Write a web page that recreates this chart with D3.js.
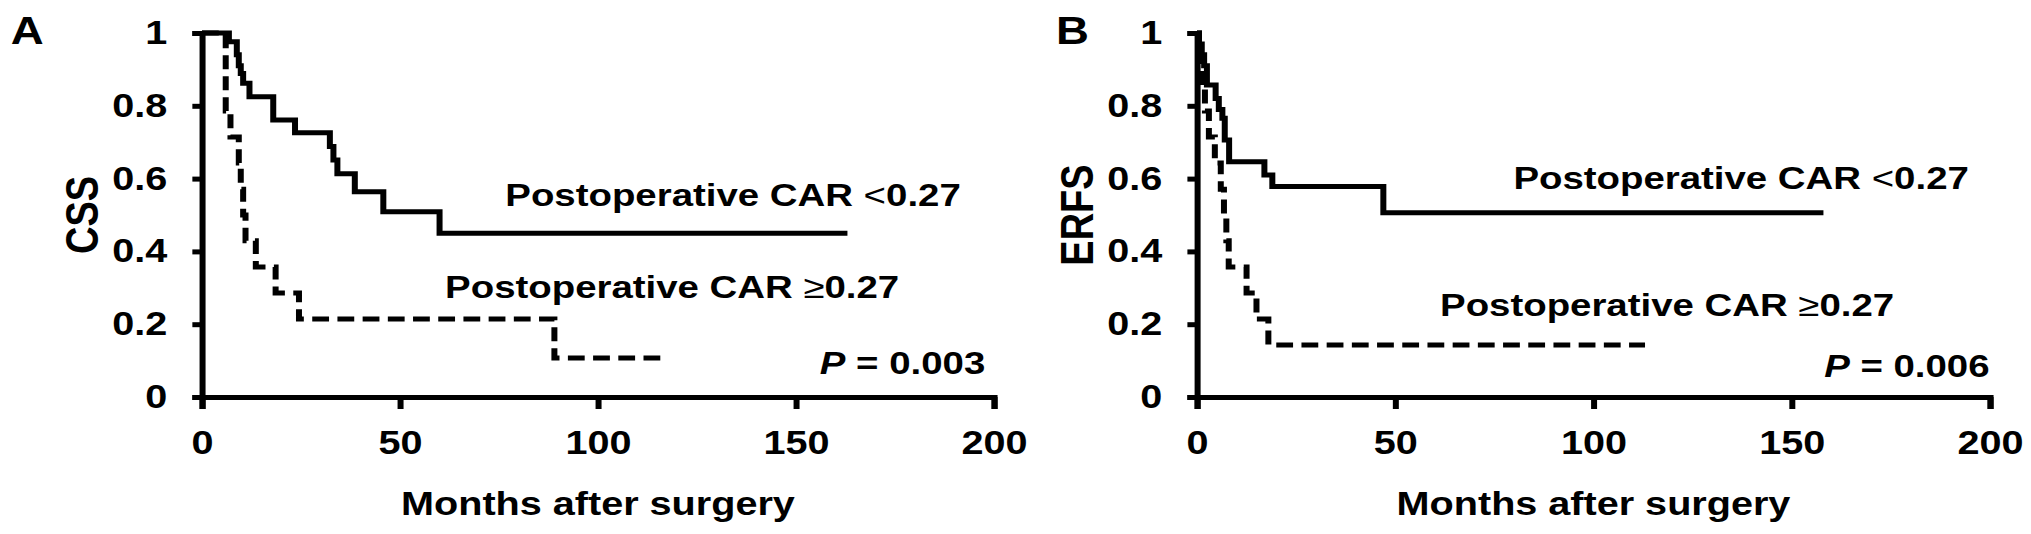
<!DOCTYPE html>
<html>
<head>
<meta charset="utf-8">
<script src="https://cdn.jsdelivr.net/npm/d3@7"></script>
<style>
  html, body { margin: 0; padding: 0; background: #fff; }
  svg { display: block; }
</style>
</head>
<body>
<svg id="chart" width="2031" height="534"></svg>
<script>
// axis ticks
const monthTicks = [0, 50, 100, 150, 200];
const survTicks = [0, 0.2, 0.4, 0.6, 0.8, 1];

// Panel A - CSS (month of each step, survival after it; last point = end of follow-up)
const cssLowMonths = [0, 6.8, 8.8, 9.3, 9.8, 10.4, 12, 18, 23.5, 32.3, 33.2, 34.2, 38.6, 45.8, 60, 163];
const cssLowSurv   = [1, 0.976, 0.94, 0.91, 0.889, 0.862, 0.825, 0.761, 0.726, 0.688, 0.651, 0.613, 0.564, 0.509, 0.45, 0.45];
const cssHighMonths = [0, 6, 7.2, 9.3, 9.8, 10.4, 11, 13.6, 18.6, 24.5, 89, 116];
const cssHighSurv   = [1, 0.786, 0.714, 0.643, 0.571, 0.5, 0.429, 0.357, 0.286, 0.214, 0.107, 0.107];

// Panel B - ERFS
const erfsLowMonths = [0, 0.5, 1.2, 1.8, 2.5, 4.7, 5.5, 6.4, 7, 8.1, 17, 19, 47, 158];
const erfsLowSurv   = [1, 0.97, 0.94, 0.91, 0.857, 0.82, 0.79, 0.766, 0.706, 0.646, 0.61, 0.578, 0.506, 0.506];
const erfsHighMonths = [0, 0.5, 1.2, 2, 3, 4.5, 6, 6.8, 7.4, 8, 12.5, 15, 18, 113];
const erfsHighSurv   = [1, 0.929, 0.857, 0.786, 0.714, 0.643, 0.571, 0.5, 0.429, 0.357, 0.286, 0.214, 0.143, 0.143];

const groupLabel = "Postoperative CAR ";
const font = "'Liberation Sans', Arial, sans-serif";

// the figure is stretched a little horizontally, like the original
const stretch = 1.2;
const W = 2031 / stretch, H = 534;

const svg = d3.select("#chart")
  .attr("viewBox", `0 0 ${W} ${H}`)
  .attr("preserveAspectRatio", "none");

const panels = [
  { letter: "A", yTitle: "CSS", left: 168.3, right: 828.3, letterX: 9, titleX: 82,
    low: [cssLowMonths, cssLowSurv], high: [cssHighMonths, cssHighSurv],
    lowPos: [76.6, 0.525], highPos: [61.4, 0.272], pPos: [197.8, 0.063], p: "0.003" },
  { letter: "B", yTitle: "ERFS", left: 997.5, right: 1658.3, letterX: 880, titleX: 911,
    low: [erfsLowMonths, erfsLowSurv], high: [erfsHighMonths, erfsHighSurv],
    lowPos: [79.8, 0.571], highPos: [61.3, 0.223], pPos: [199.9, 0.055], p: "0.006" }
];

const y = d3.scaleLinear().domain([0, 1]).range([397, 33]);

panels.forEach(p => {
  const x = d3.scaleLinear().domain([0, 200]).range([p.left, p.right]);
  const g = svg.append("g");

  // y axis
  const yAxis = g.append("g")
    .attr("transform", `translate(${p.left},0)`)
    .call(d3.axisLeft(y).tickValues(survTicks).tickFormat(d => d)
      .tickSize(8).tickPadding(21));

  // x axis
  const xAxis = g.append("g")
    .attr("transform", `translate(0,${y(0)})`)
    .call(d3.axisBottom(x).tickValues(monthTicks).tickFormat(d => d)
      .tickSize(12).tickPadding(22));

  [yAxis, xAxis].forEach(a => {
    a.select(".domain").attr("stroke", "#000").attr("stroke-width", 5);
    a.selectAll(".tick line").attr("stroke", "#000").attr("stroke-width", 5);
    a.selectAll(".tick text")
      .attr("fill", "#000")
      .attr("font-family", font)
      .attr("font-weight", "bold")
      .attr("font-size", 33);
  });

  // survival curves
  const line = d3.line()
    .x(d => x(d[0]))
    .y(d => y(d[1]))
    .curve(d3.curveStepAfter);

  g.append("path")
    .datum(d3.zip(p.low[0], p.low[1]))
    .attr("d", line)
    .attr("fill", "none")
    .attr("stroke", "#000")
    .attr("stroke-width", 5);

  g.append("path")
    .datum(d3.zip(p.high[0], p.high[1]))
    .attr("d", line)
    .attr("fill", "none")
    .attr("stroke", "#000")
    .attr("stroke-width", 5)
    .attr("stroke-dasharray", "14,7");

  // axis titles
  g.append("text")
    .attr("x", (p.left + p.right) / 2)
    .attr("y", 515)
    .attr("text-anchor", "middle")
    .attr("font-family", font)
    .attr("font-weight", "bold")
    .attr("font-size", 33)
    .text("Months after surgery");

  g.append("text")
    .attr("transform", `translate(${p.titleX},${(y(0) + y(1)) / 2}) rotate(-90)`)
    .attr("text-anchor", "middle")
    .attr("font-family", font)
    .attr("font-weight", "bold")
    .attr("font-size", 38)
    .text(p.yTitle);

  // panel letter
  g.append("text")
    .attr("x", p.letterX)
    .attr("y", 44)
    .attr("font-family", font)
    .attr("font-weight", "bold")
    .attr("font-size", 38)
    .text(p.letter);

  // curve labels
  const lab1 = g.append("text")
    .attr("x", x(p.lowPos[0]))
    .attr("y", y(p.lowPos[1]))
    .attr("font-family", font)
    .attr("font-weight", "bold")
    .attr("font-size", 32);
  lab1.append("tspan").text(groupLabel);
  lab1.append("tspan").attr("font-weight", "normal").text("<");
  lab1.append("tspan").text("0.27");

  const lab2 = g.append("text")
    .attr("x", x(p.highPos[0]))
    .attr("y", y(p.highPos[1]))
    .attr("font-family", font)
    .attr("font-weight", "bold")
    .attr("font-size", 32);
  lab2.append("tspan").text(groupLabel);
  lab2.append("tspan").attr("font-weight", "normal").text("≥");
  lab2.append("tspan").text("0.27");

  // p value
  const pv = g.append("text")
    .attr("x", x(p.pPos[0]))
    .attr("y", y(p.pPos[1]))
    .attr("text-anchor", "end")
    .attr("font-family", font)
    .attr("font-weight", "bold")
    .attr("font-size", 32);
  pv.append("tspan").attr("font-style", "italic").text("P");
  pv.append("tspan").text(" = " + p.p);
});
</script>
</body>
</html>
